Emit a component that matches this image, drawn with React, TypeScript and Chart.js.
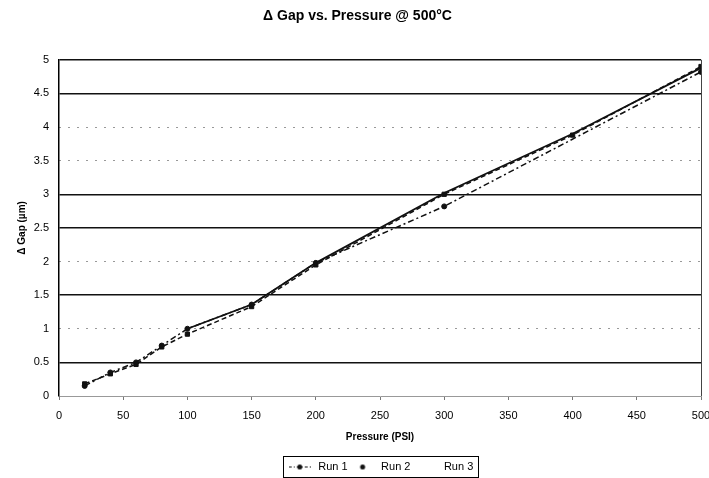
import React, { useEffect, useRef } from "react";
import { Chart, registerables } from "chart.js";

Chart.register(...registerables);

const TITLE = "Δ Gap vs. Pressure @ 500°C";
const X_TITLE = "Pressure (PSI)";
const Y_TITLE = "Δ Gap (µm)";

const run1Pressure = [20, 40, 60, 80, 100, 150, 200, 300, 500];
const run1Gap = [0.15, 0.35, 0.5, 0.75, 1.0, 1.36, 1.98, 2.82, 4.82];

const run2Pressure = [20, 40, 60, 80, 100, 150, 200, 300, 400, 500];
const run2Gap = [0.18, 0.33, 0.47, 0.73, 0.92, 1.33, 1.95, 3.0, 3.88, 4.9];

const run3Pressure = [100, 150, 200, 300, 400, 500];
const run3Gap = [1.0, 1.36, 1.98, 3.02, 3.9, 4.88];

const strongGrid = [0.5, 1.5, 2.5, 3, 4.5, 5];

const FONT = "'Liberation Sans', Arial, sans-serif";

const toXY = (xs: number[], ys: number[]) => xs.map((x, i) => ({ x, y: ys[i] }));

function legendIcon(kind: number): HTMLCanvasElement {
  const c = document.createElement("canvas");
  c.width = 22;
  c.height = 8;
  const g = c.getContext("2d")!;
  g.strokeStyle = "#111";
  g.fillStyle = "#111";
  if (kind === 0) {
    g.lineWidth = 1;
    g.setLineDash([3, 2, 1, 2]);
    g.beginPath();
    g.moveTo(0, 4.5);
    g.lineTo(22, 4.5);
    g.stroke();
    g.beginPath();
    g.arc(11, 4.5, 2.5, 0, Math.PI * 2);
    g.fill();
  } else if (kind === 1) {
    g.beginPath();
    g.arc(11, 4.5, 2.5, 0, Math.PI * 2);
    g.fill();
  }
  return c;
}

const legendBox = {
  id: "legendBox",
  afterDraw(chart: any) {
    const lg = chart.legend;
    if (!lg || !lg.legendHitBoxes || !lg.legendHitBoxes.length) return;
    const hb = lg.legendHitBoxes;
    let l = Infinity, r = -Infinity, t = Infinity, b = -Infinity;
    hb.forEach((h: any) => {
      l = Math.min(l, h.left);
      r = Math.max(r, h.left + h.width);
      t = Math.min(t, h.top);
      b = Math.max(b, h.top + h.height);
    });
    const ctx = chart.ctx;
    ctx.save();
    ctx.strokeStyle = "#000";
    ctx.lineWidth = 1;
    ctx.strokeRect(Math.round(l - 4) + 0.5, Math.round(t - 5) + 0.5, Math.round(r - l + 8), Math.round(b - t + 10));
    ctx.restore();
  },
};

export default function App() {
  const ref = useRef<HTMLCanvasElement | null>(null);

  useEffect(() => {
    document.body.style.margin = "0";
    const canvas = ref.current;
    if (!canvas) return;
    const icons = [legendIcon(0), legendIcon(1), legendIcon(2)];
    const chart = new Chart(canvas, {
      type: "line",
      data: {
        datasets: [
          {
            label: "Run 1",
            data: toXY(run1Pressure, run1Gap),
            borderColor: "#111",
            backgroundColor: "#111",
            borderWidth: 1.5,
            borderDash: [6, 3, 2, 3],
            pointStyle: "circle",
            pointRadius: 2.5,
            pointBorderWidth: 1,
          },
          {
            label: "Run 2",
            data: toXY(run2Pressure, run2Gap),
            borderColor: "#111",
            backgroundColor: "#111",
            borderWidth: 1.5,
            borderDash: [5, 3],
            pointStyle: "rect",
            pointRadius: 3,
            pointBorderWidth: 1,
          },
          {
            label: "Run 3",
            data: toXY(run3Pressure, run3Gap),
            borderColor: "#111",
            backgroundColor: "rgba(0,0,0,0)",
            borderWidth: 1.8,
            pointStyle: "line",
            pointRadius: 0,
          },
        ],
      },
      options: {
        responsive: false,
        animation: false,
        layout: { padding: { left: 14, right: 8, top: 0, bottom: -4 } },
        plugins: {
          title: {
            display: true,
            text: TITLE,
            color: "#000",
            font: { family: FONT, size: 14, weight: "bold" },
            padding: { top: 8, bottom: 35 },
          },
          legend: {
            display: true,
            position: "bottom",
            align: "center",
            fullSize: false,
            labels: {
              color: "#000",
              font: { family: FONT, size: 11 },
              usePointStyle: true,
              pointStyleWidth: 26,
              boxWidth: 26,
              boxHeight: 8,
              padding: 2,
              generateLabels: (chart: any) =>
                chart.data.datasets.map((ds: any, i: number) => ({
                  text: ds.label,
                  datasetIndex: i,
                  fillStyle: "#111",
                  strokeStyle: "#111",
                  lineWidth: 0,
                  pointStyle: icons[i],
                  hidden: false,
                  fontColor: "#000",
                })),
            },
          },
          tooltip: { enabled: false },
        },
        scales: {
          x: {
            type: "linear",
            min: 0,
            max: 500,
            ticks: {
              stepSize: 50,
              color: "#000",
              font: { family: FONT, size: 11 },
              padding: 9,
              maxRotation: 0,
            },
            grid: {
              color: (c: any) => (c.tick && c.tick.value === 500 ? "#444" : "rgba(0,0,0,0)"),
              tickColor: "#777",
              tickLength: 4,
              lineWidth: 1,
            },
            border: { color: "#999", width: 1 },
            title: {
              display: true,
              text: X_TITLE,
              color: "#000",
              font: { family: FONT, size: 10, weight: "bold" },
              padding: { top: 4, bottom: 16 },
            },
            afterFit: (s: any) => {
              s.height = 63;
              s.paddingRight = 0;
              s.paddingLeft = 0;
            },
          },
          y: {
            type: "linear",
            min: 0,
            max: 5,
            ticks: {
              stepSize: 0.5,
              color: "#000",
              font: { family: FONT, size: 11 },
              padding: 10,
              callback: (v: any) => String(Number(v)),
            },
            grid: {
              color: (c: any) =>
                c.tick && strongGrid.includes(c.tick.value) ? "#111" : "rgba(0,0,0,0)",
              lineWidth: 1.5,
              drawTicks: false,
            },
            border: { color: "#000", width: 1.5 },
            title: {
              display: true,
              text: Y_TITLE,
              color: "#000",
              font: { family: FONT, size: 10, weight: "bold" },
              padding: { top: 2, bottom: 4 },
            },
            afterFit: (s: any) => {
              s.width = 45;
            },
          },
          yFaint: {
            type: "linear",
            position: "right",
            min: 0,
            max: 5,
            display: true,
            ticks: { stepSize: 0.5, display: false },
            grid: {
              color: (c: any) =>
                c.tick && !strongGrid.includes(c.tick.value) ? "#999" : "rgba(0,0,0,0)",
              lineWidth: 1,
              drawTicks: false,
            },
            border: { display: false, dash: [2, 7] },
            afterFit: (s: any) => {
              s.width = 0;
            },
          },
        },
      },
      plugins: [legendBox],
    } as any);
    return () => chart.destroy();
  }, []);

  return (
    <div style={{ width: 709, height: 478, background: "#fff" }}>
      <canvas ref={ref} width={709} height={478} style={{ display: "block" }} />
    </div>
  );
}
